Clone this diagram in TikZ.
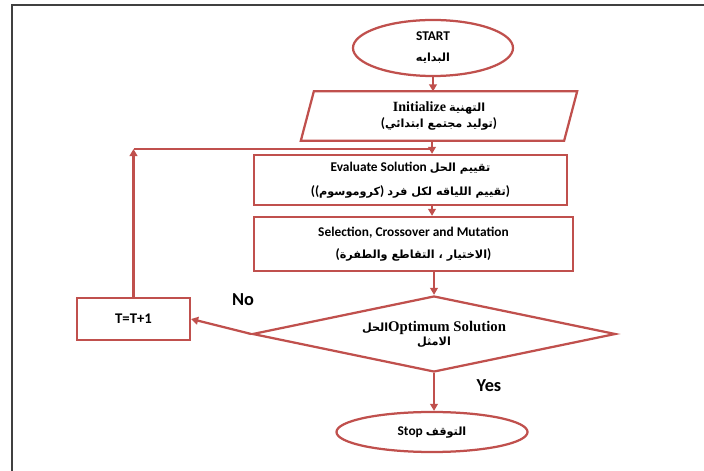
\documentclass[tikz,border=0pt]{standalone}
\usepackage{fontspec}
\setmainfont{Carlito}
\newfontfamily\timesfont{Liberation Serif}
\newfontfamily\arabicfont[Script=Arabic]{DejaVu Sans}
\TeXXeTstate=1
\usetikzlibrary{calc,arrows.meta,shapes.geometric}
\definecolor{flowred}{RGB}{192,80,77}
\newcommand{\artext}[1]{{\arabicfont\fontsize{8}{10}\selectfont\bfseries\beginR #1\endR}}

\begin{document}
\begin{tikzpicture}[x=0.025cm,y=-0.025cm,
    box/.style={draw=flowred,line width=1.6pt,align=center,inner sep=0pt,
        font=\bfseries\fontsize{9.5}{12}\selectfont},
    flow/.style={draw=flowred,line width=1.6pt,-{Triangle[width=5.5pt,length=5pt]}},
    link/.style={draw=flowred,line width=1.6pt},
    answer/.style={font=\bfseries\fontsize{13}{15}\selectfont}]
    \useasboundingbox (0,0) rectangle (704,471);
    \draw[black!75,line width=1.2pt] (12,471) -- (12,5) -- (704,5);

    \node[box,ellipse,minimum width=4cm,minimum height=1.4cm] (start) at (433,48)
        {START\\[3pt]\artext{البدايه}};
    \node[box,draw=none,minimum width=6.85cm,minimum height=1.175cm] (init) at (439,116)
        {{\timesfont\fontsize{10}{12}\selectfont Initialize} \artext{التهنية}\\(\artext{توليد مجتمع ابتدائي})};
    \draw[link] ($(init.north west)+(13,0)$) -- (init.north east)
        -- ($(init.south east)+(-13,0)$) -- (init.south west) -- cycle;
    \node[box,minimum width=7.825cm,minimum height=1.25cm] (eval) at (410.5,180)
        {Evaluate Solution \artext{تقييم الحل}\\[5pt]((\artext{كروموسوم}) \artext{تقييم اللياقه لكل فرد})};
    \node[box,minimum width=7.975cm,minimum height=1.35cm] (sel) at (413.5,244)
        {Selection, Crossover and Mutation\\[4pt](\artext{الاختيار ، التقاطع والطفرة})};
    \node[box,diamond,shape aspect=4.78,minimum width=9.075cm,minimum height=1.9cm] (dec) at (434,334)
        {\artext{الحل}{\timesfont\fontsize{10.5}{12}\selectfont Optimum Solution}\\[-2pt]\artext{الامثل}};
    \node[box,minimum width=2.825cm,minimum height=1.05cm,font=\bfseries\fontsize{10.5}{12}\selectfont] (tbox) at (133.5,319) {T=T+1};
    \node[box,ellipse,minimum width=4.775cm,minimum height=1cm] (stop) at (432,432)
        {Stop \artext{التوقف}};
    \node[answer] (yes) at (489,386) {Yes};
    \node[answer] (no) at (243,300) {No};

    \coordinate (join) at (432,149);
    \coordinate (corner) at (tbox.north |- join);

    \draw[flow] (start.south) -- (init.north -| start.south);
    \draw[flow] (init.south -| join) -- (eval.north -| join);
    \draw[flow] (eval.south -| join) -- (sel.north -| join);
    \draw[flow] (sel.south -| dec.north) -- (dec.north);
    \draw[flow] (dec.south) -- (stop.north -| dec.south);
    \draw[flow] (dec.west) -- (tbox.east);
    \draw[flow] (tbox.north) -- (corner);
    \draw[link] (corner) -- (join);
\end{tikzpicture}
\end{document}
